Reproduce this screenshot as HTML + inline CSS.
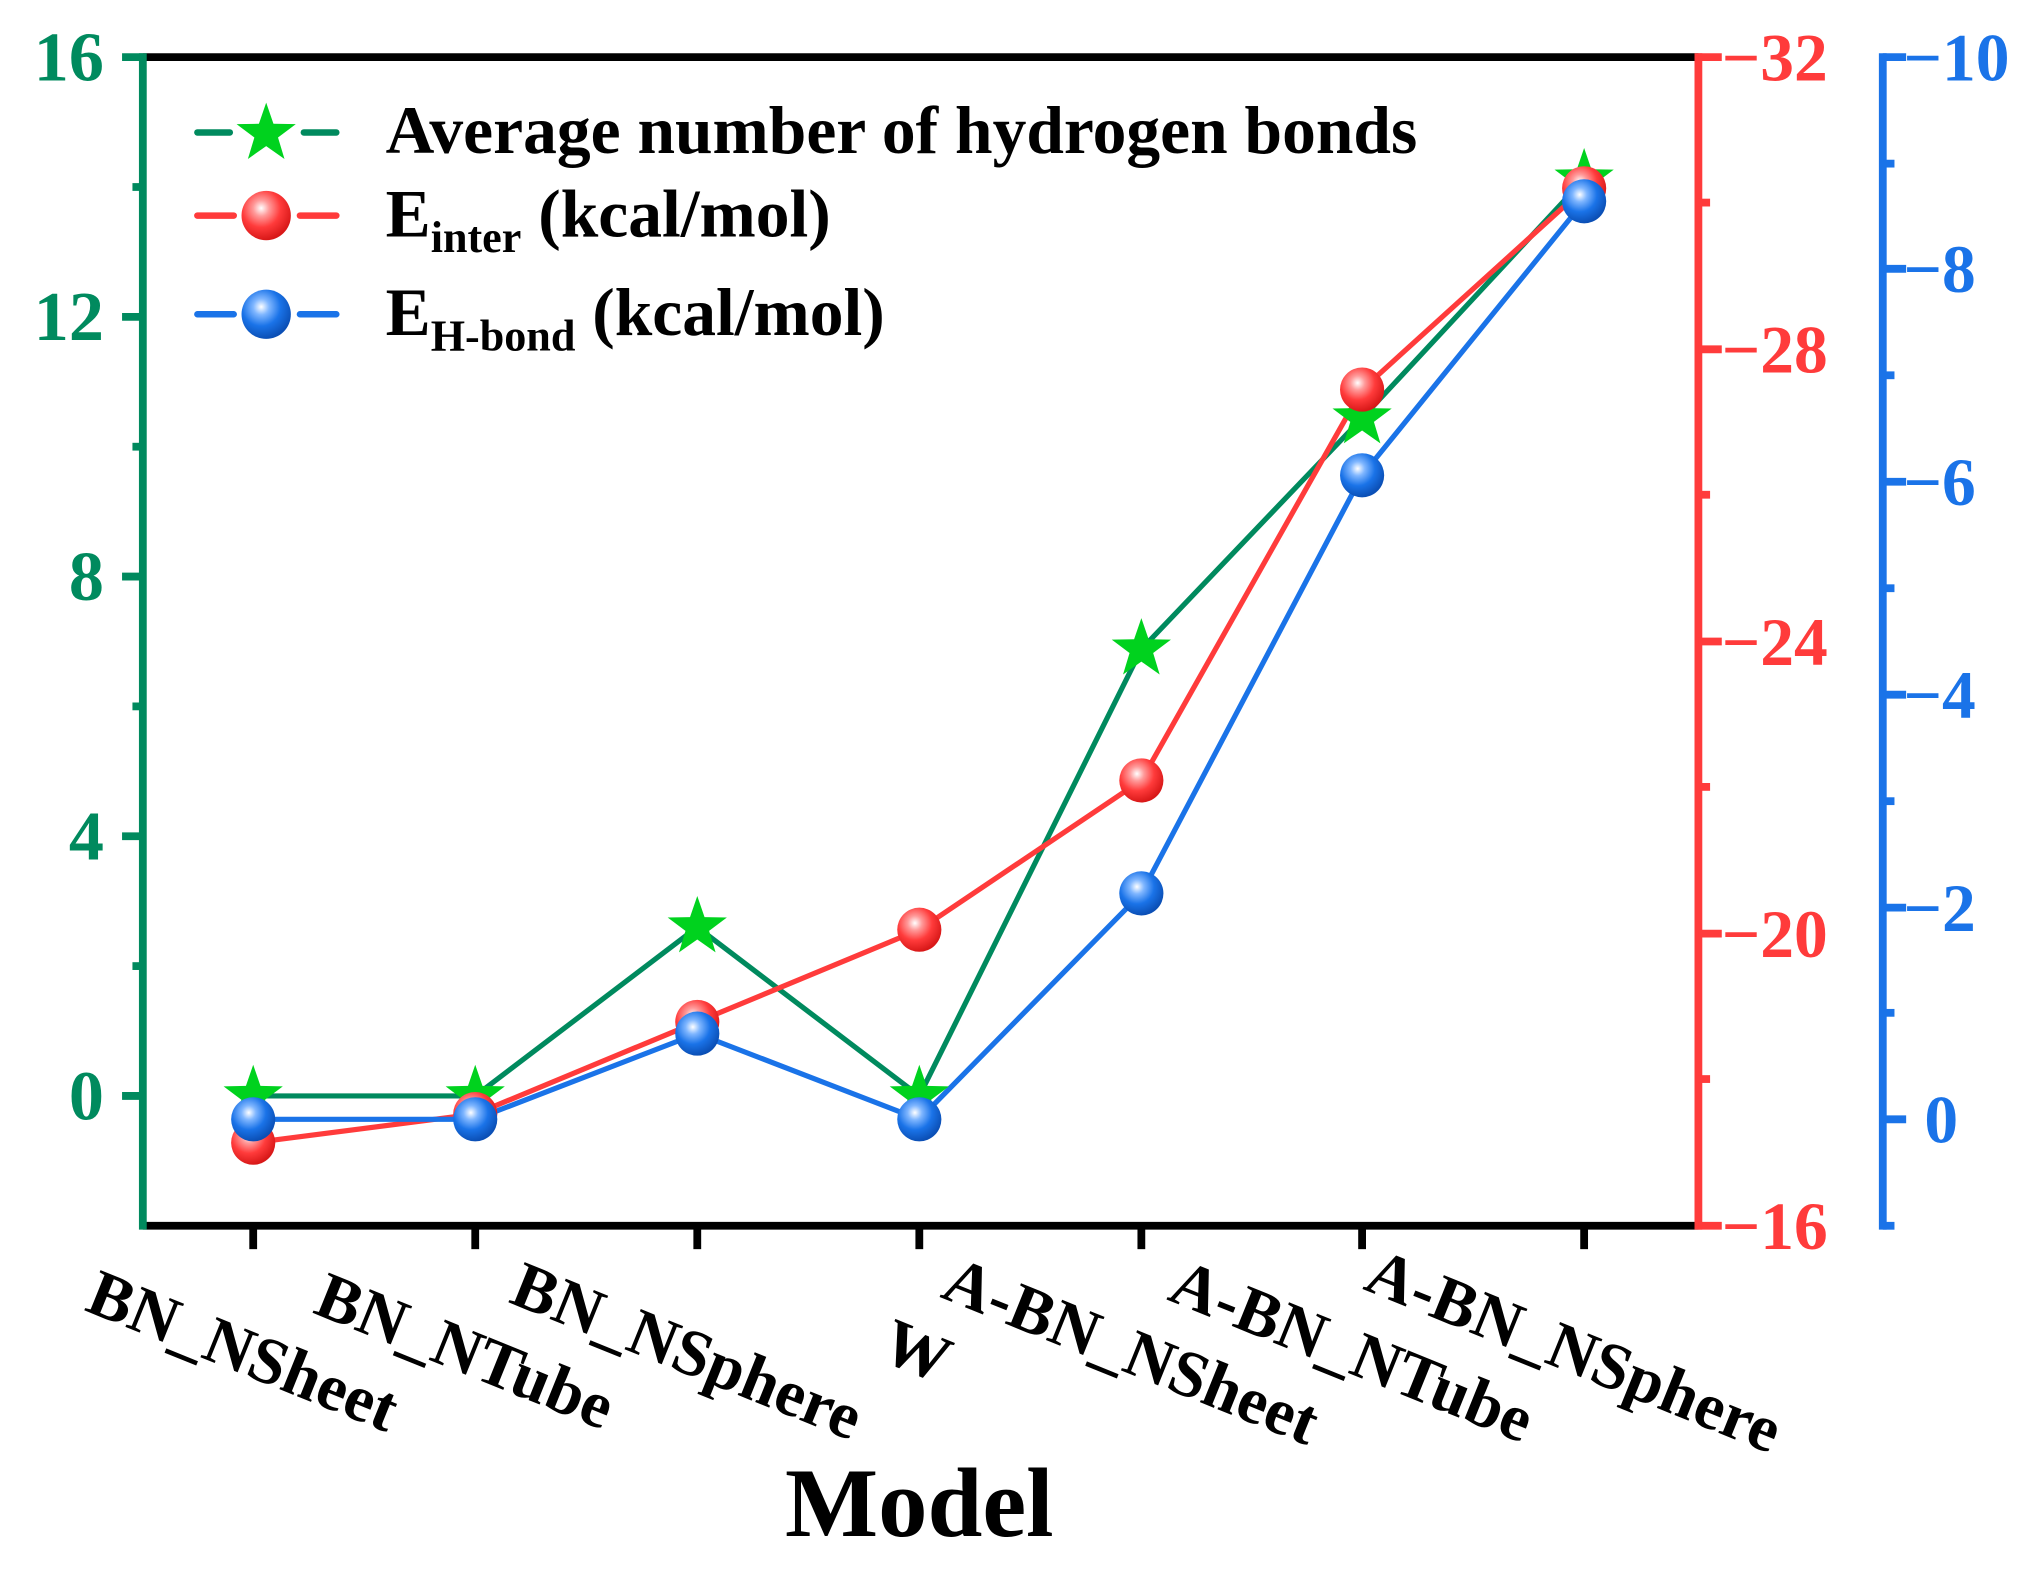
<!DOCTYPE html>
<html><head><style>html,body{margin:0;padding:0;background:#fff}svg{display:block}</style></head><body>
<svg width="2036" height="1586" viewBox="0 0 1568 1221.4" xmlns="http://www.w3.org/2000/svg" font-family="Liberation Serif, serif" font-weight="bold">
<defs>
<radialGradient id="rg" cx="0.4" cy="0.35" r="0.65"><stop offset="0" stop-color="#fff"/><stop offset="0.25" stop-color="#ff9a9a"/><stop offset="0.6" stop-color="#ff3b3b"/><stop offset="1" stop-color="#d81818"/></radialGradient>
<radialGradient id="bg" cx="0.4" cy="0.35" r="0.65"><stop offset="0" stop-color="#fff"/><stop offset="0.25" stop-color="#7fb6ff"/><stop offset="0.6" stop-color="#1a73e8"/><stop offset="1" stop-color="#0b4fb5"/></radialGradient>
<polygon id="st" points="0,-24 5.6,-7.7 22.8,-7.4 9.1,2.9 14.1,19.4 0,9.5 -14.1,19.4 -9.1,2.9 -22.8,-7.4 -5.6,-7.7" fill="#00d21e"/>
</defs>
<line x1="110" y1="44" x2="1308" y2="44" stroke="#000" stroke-width="6"/>
<line x1="110" y1="944" x2="1308" y2="944" stroke="#000" stroke-width="6"/>
<line x1="110" y1="41" x2="110" y2="947" stroke="#008a5e" stroke-width="6"/>
<line x1="1308" y1="41" x2="1308" y2="947" stroke="#ff3b3b" stroke-width="6"/>
<line x1="1450" y1="41" x2="1450" y2="947" stroke="#1a73e8" stroke-width="6"/>
<g stroke="#008a5e" stroke-width="6">
<line x1="94" y1="44" x2="110" y2="44"/><line x1="94" y1="244" x2="110" y2="244"/><line x1="94" y1="444" x2="110" y2="444"/><line x1="94" y1="644" x2="110" y2="644"/><line x1="94" y1="844" x2="110" y2="844"/>
<line x1="102" y1="144" x2="110" y2="144"/><line x1="102" y1="344" x2="110" y2="344"/><line x1="102" y1="544" x2="110" y2="544"/><line x1="102" y1="744" x2="110" y2="744"/>
</g>
<g fill="#008a5e" font-size="54" text-anchor="end">
<text x="80" y="62">16</text><text x="80" y="262">12</text><text x="80" y="462">8</text><text x="80" y="662">4</text><text x="80" y="862">0</text>
</g>
<g stroke="#ff3b3b" stroke-width="6">
<line x1="1308" y1="44" x2="1326" y2="44"/><line x1="1308" y1="269" x2="1326" y2="269"/><line x1="1308" y1="494" x2="1326" y2="494"/><line x1="1308" y1="719" x2="1326" y2="719"/><line x1="1308" y1="944" x2="1326" y2="944"/>
<line x1="1308" y1="156" x2="1317" y2="156"/><line x1="1308" y1="381" x2="1317" y2="381"/><line x1="1308" y1="606" x2="1317" y2="606"/><line x1="1308" y1="831" x2="1317" y2="831"/>
</g>
<g fill="#ff3b3b" font-size="52">
<text x="1326" y="62">−32</text><text x="1326" y="287">−28</text><text x="1326" y="512">−24</text><text x="1326" y="737">−20</text><text x="1326" y="962">−16</text>
</g>
<g stroke="#1a73e8" stroke-width="6">
<line x1="1450" y1="44" x2="1468" y2="44"/><line x1="1450" y1="207" x2="1468" y2="207"/><line x1="1450" y1="371" x2="1468" y2="371"/><line x1="1450" y1="535" x2="1468" y2="535"/><line x1="1450" y1="699" x2="1468" y2="699"/><line x1="1450" y1="862" x2="1468" y2="862"/>
<line x1="1450" y1="126" x2="1459" y2="126"/><line x1="1450" y1="289" x2="1459" y2="289"/><line x1="1450" y1="453" x2="1459" y2="453"/><line x1="1450" y1="617" x2="1459" y2="617"/><line x1="1450" y1="780" x2="1459" y2="780"/><line x1="1450" y1="944" x2="1459" y2="944"/>
</g>
<g fill="#1a73e8" font-size="52">
<text x="1466" y="62">−10</text><text x="1466" y="225">−8</text><text x="1466" y="389">−6</text><text x="1466" y="553">−4</text><text x="1466" y="717">−2</text><text x="1482" y="880">0</text>
</g>
<g stroke="#000" stroke-width="6">
<line x1="195" y1="944" x2="195" y2="962"/><line x1="366" y1="944" x2="366" y2="962"/><line x1="537" y1="944" x2="537" y2="962"/><line x1="708" y1="944" x2="708" y2="962"/><line x1="879" y1="944" x2="879" y2="962"/><line x1="1049" y1="944" x2="1049" y2="962"/><line x1="1220" y1="944" x2="1220" y2="962"/>
</g>
<g font-size="51" text-anchor="middle" fill="#000">
<text transform="translate(181,1056) rotate(22)">BN_NSheet</text>
<text transform="translate(352,1056) rotate(22)">BN_NTube</text>
<text transform="translate(523,1056) rotate(22)">BN_NSphere</text>
<text transform="translate(700,1056) rotate(22)">W</text>
<text transform="translate(865,1056) rotate(22)">A-BN_NSheet</text>
<text transform="translate(1035,1056) rotate(22)">A-BN_NTube</text>
<text transform="translate(1206,1056) rotate(22)">A-BN_NSphere</text>
</g>
<text x="708" y="1183" font-size="76" text-anchor="middle">Model</text>
<polyline points="195,844 366,844 537,714 708,844 879,500 1049,322 1220,138" fill="none" stroke="#008a5e" stroke-width="4"/>
<polyline points="195,880 366,858 537,787 708,716 879,601 1049,300 1220,145" fill="none" stroke="#ff3b3b" stroke-width="4"/>
<polyline points="195,862 366,862 537,796 708,862 879,688 1049,366 1220,155" fill="none" stroke="#1a73e8" stroke-width="4"/>
<g>
<use href="#st" x="195" y="844"/><use href="#st" x="366" y="844"/><use href="#st" x="537" y="714"/><use href="#st" x="708" y="844"/><use href="#st" x="879" y="500"/><use href="#st" x="1049" y="322"/><use href="#st" x="1220" y="138"/>
</g>
<g fill="url(#rg)">
<circle cx="195" cy="880" r="17"/><circle cx="366" cy="858" r="17"/><circle cx="537" cy="787" r="17"/><circle cx="708" cy="716" r="17"/><circle cx="879" cy="601" r="17"/><circle cx="1049" cy="300" r="17"/><circle cx="1220" cy="145" r="17"/>
</g>
<g fill="url(#bg)">
<circle cx="195" cy="862" r="17"/><circle cx="366" cy="862" r="17"/><circle cx="537" cy="796" r="17"/><circle cx="708" cy="862" r="17"/><circle cx="879" cy="688" r="17"/><circle cx="1049" cy="366" r="17"/><circle cx="1220" cy="155" r="17"/>
</g>
<g stroke-width="5" stroke-linecap="round">
<line x1="152" y1="102" x2="177" y2="102" stroke="#008a5e"/><line x1="234" y1="102" x2="259" y2="102" stroke="#008a5e"/>
<line x1="152" y1="166" x2="180" y2="166" stroke="#ff3b3b"/><line x1="231" y1="166" x2="259" y2="166" stroke="#ff3b3b"/>
<line x1="152" y1="242" x2="180" y2="242" stroke="#1a73e8"/><line x1="231" y1="242" x2="259" y2="242" stroke="#1a73e8"/>
</g>
<use href="#st" x="205" y="103"/>
<circle cx="205" cy="166" r="19" fill="url(#rg)"/>
<circle cx="205" cy="242" r="19" fill="url(#bg)"/>
<g font-size="52" fill="#000">
<text x="297" y="118">Average number of hydrogen bonds</text>
<text x="297" y="182">E<tspan font-size="34" dy="12">inter</tspan><tspan dy="-12"> (kcal/mol)</tspan></text>
<text x="297" y="258">E<tspan font-size="34" dy="12">H-bond</tspan><tspan dy="-12"> (kcal/mol)</tspan></text>
</g>
</svg>
</body></html>
